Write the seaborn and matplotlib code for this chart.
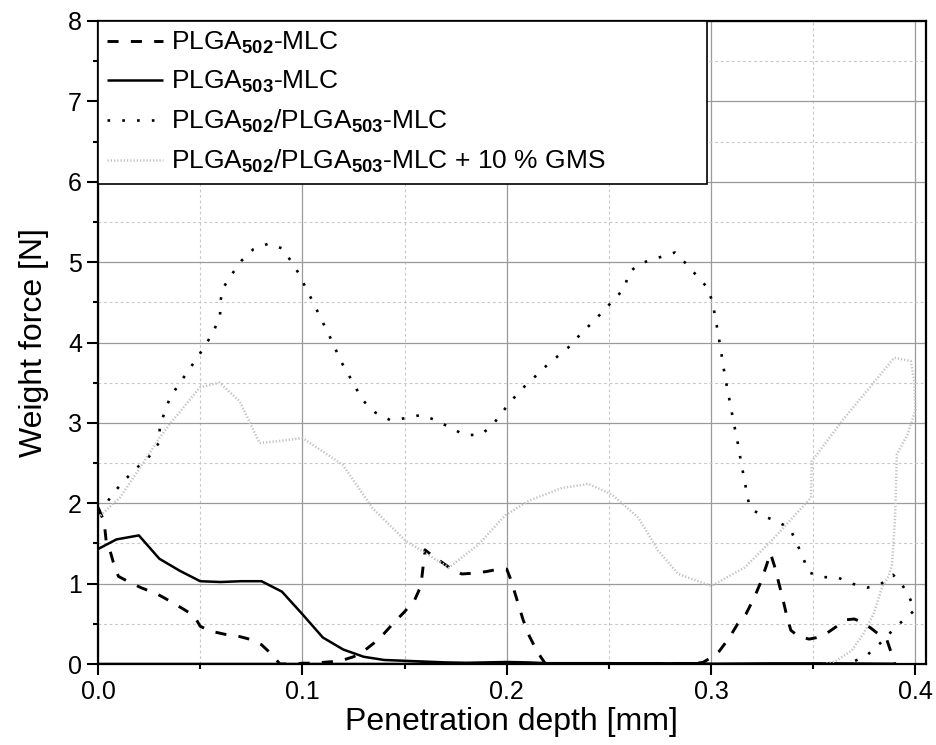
import matplotlib
matplotlib.use("Agg")
import matplotlib.pyplot as plt
import seaborn as sns
import numpy as np
from matplotlib.ticker import MultipleLocator, FormatStrFormatter

# ---------------- data ----------------
# PLGA502-MLC (dashed)
x_502 = [0.000, 0.003, 0.004, 0.006, 0.008, 0.010, 0.016, 0.021, 0.029, 0.034, 0.042, 0.047,
         0.050, 0.055, 0.062, 0.068, 0.074, 0.080, 0.085, 0.089, 0.095, 0.100, 0.105, 0.110,
         0.115, 0.120, 0.125, 0.130, 0.135, 0.140, 0.145, 0.150, 0.155, 0.158, 0.160, 0.163,
         0.168, 0.173, 0.178, 0.184, 0.190, 0.196, 0.200, 0.202, 0.205, 0.208, 0.211, 0.215,
         0.219, 0.230, 0.250, 0.270, 0.290, 0.296, 0.300, 0.304, 0.309, 0.313, 0.317, 0.321,
         0.324, 0.327, 0.329, 0.331, 0.333, 0.335, 0.337, 0.339, 0.343, 0.348, 0.352, 0.357,
         0.361, 0.366, 0.370, 0.374, 0.378, 0.382, 0.386, 0.388, 0.390]
y_502 = [1.95, 1.77, 1.53, 1.40, 1.22, 1.09, 1.01, 0.95, 0.87, 0.80, 0.68, 0.60,
         0.47, 0.41, 0.37, 0.35, 0.31, 0.24, 0.12, 0.00, 0.00, 0.01, 0.01, 0.02,
         0.03, 0.05, 0.09, 0.16, 0.26, 0.38, 0.52, 0.65, 0.80, 0.97, 1.42, 1.36,
         1.27, 1.18, 1.12, 1.13, 1.15, 1.18, 1.18, 1.05, 0.80, 0.55, 0.35, 0.15,
         0.00, 0.00, 0.00, 0.00, 0.00, 0.02, 0.08, 0.16, 0.33, 0.50, 0.62, 0.82,
         1.00, 1.22, 1.38, 1.22, 1.02, 0.82, 0.60, 0.42, 0.34, 0.31, 0.33, 0.39,
         0.46, 0.55, 0.56, 0.52, 0.45, 0.37, 0.30, 0.15, 0.00]

# PLGA503-MLC (solid)
x_503 = [0.000, 0.009, 0.020, 0.030, 0.040, 0.050, 0.060, 0.070, 0.080, 0.090, 0.100, 0.110,
         0.120, 0.130, 0.140, 0.150, 0.160, 0.170, 0.180, 0.190, 0.200, 0.210, 0.220, 0.250,
         0.280, 0.290, 0.300, 0.330, 0.360, 0.390, 0.200, 0.000]
y_503 = [1.43, 1.55, 1.60, 1.31, 1.16, 1.03, 1.02, 1.03, 1.03, 0.90, 0.62, 0.33,
         0.18, 0.09, 0.05, 0.04, 0.03, 0.02, 0.015, 0.02, 0.025, 0.02, 0.01, 0.01,
         0.005, 0.01, 0.00, 0.005, 0.005, 0.00, 0.00, 0.00]

# PLGA502/PLGA503-MLC (dotted, black)
x_mix = [0.000, 0.004, 0.009, 0.0135, 0.019, 0.025, 0.030, 0.0302, 0.035, 0.039, 0.0437, 0.048,
         0.0524, 0.0564, 0.0597, 0.0600, 0.0615, 0.0658, 0.0703, 0.076, 0.0834, 0.0902, 0.0945,
         0.0987, 0.102, 0.1055, 0.109, 0.1124, 0.1158, 0.119, 0.1228, 0.1265, 0.130, 0.1356,
         0.1433, 0.1507, 0.1584, 0.1655, 0.1724, 0.1794, 0.187, 0.1927, 0.1974, 0.2021, 0.2073,
         0.2128, 0.2185, 0.2245, 0.2302, 0.2356, 0.2411, 0.2465, 0.2519, 0.2575, 0.2598, 0.2650,
         0.2722, 0.2800, 0.2822, 0.2878, 0.2930, 0.2983, 0.3008, 0.3022, 0.3035, 0.3048, 0.306,
         0.3073, 0.3088, 0.3102, 0.3117, 0.3132, 0.3145, 0.316, 0.3174, 0.3189, 0.3247, 0.3317,
         0.3385, 0.3418, 0.3449, 0.3478, 0.3545, 0.3616, 0.3689, 0.3763, 0.3828, 0.3890, 0.3934,
         0.3972, 0.3996, 0.3934, 0.3877, 0.3828, 0.3763, 0.3697, 0.3650]
y_mix = [1.90, 2.00, 2.17, 2.30, 2.44, 2.58, 2.76, 2.96, 3.30, 3.46, 3.63, 3.79,
         3.96, 4.13, 4.33, 4.53, 4.69, 4.86, 5.02, 5.16, 5.23, 5.17, 5.01,
         4.84, 4.66, 4.49, 4.30, 4.13, 3.94, 3.76, 3.59, 3.42, 3.27, 3.13,
         3.03, 3.06, 3.10, 3.03, 2.94, 2.85, 2.85, 2.96, 3.12, 3.27, 3.42,
         3.55, 3.69, 3.82, 3.94, 4.09, 4.23, 4.37, 4.52, 4.67, 4.87, 4.98,
         5.04, 5.10, 5.12, 4.98, 4.83, 4.68, 4.49, 4.29, 4.10, 3.90, 3.70,
         3.51, 3.31, 3.12, 2.92, 2.73, 2.53, 2.33, 2.14, 1.94, 1.85, 1.78,
         1.69, 1.51, 1.33, 1.14, 1.08, 1.08, 1.00, 0.95, 0.99, 1.11, 0.99,
         0.82, 0.67, 0.53, 0.39, 0.26, 0.11, 0.03, 0.00]

# PLGA502/PLGA503-MLC + 10 % GMS (light grey, fine dots)
x_gms = [0.000, 0.0107, 0.0205, 0.030, 0.035, 0.0498, 0.0595, 0.0693, 0.079, 0.0872, 0.1001,
         0.1197, 0.1343, 0.1506, 0.1717, 0.1863, 0.1993, 0.2107, 0.227, 0.240, 0.2514, 0.2644,
         0.2741, 0.2839, 0.3001, 0.3164, 0.3294, 0.3489, 0.3492, 0.3652, 0.3815, 0.3896, 0.3977,
         0.3995, 0.3999, 0.3960, 0.3909, 0.3900, 0.3890, 0.3885, 0.3868, 0.3836, 0.3795, 0.3746,
         0.3689, 0.3607, 0.3550]
y_gms = [1.82, 2.07, 2.44, 2.81, 2.98, 3.44, 3.50, 3.27, 2.75, 2.77, 2.81,
         2.48, 1.94, 1.53, 1.20, 1.49, 1.85, 2.03, 2.19, 2.24, 2.11, 1.82,
         1.41, 1.12, 0.97, 1.20, 1.53, 2.07, 2.52, 3.06, 3.56, 3.81, 3.77,
         3.50, 3.15, 2.85, 2.61, 1.82, 1.41, 1.24, 1.09, 0.95, 0.62, 0.38,
         0.17, 0.03, 0.00]

labels = [r"PLGA$_{\mathbf{502}}$-MLC",
          r"PLGA$_{\mathbf{503}}$-MLC",
          r"PLGA$_{\mathbf{502}}$/PLGA$_{\mathbf{503}}$-MLC",
          r"PLGA$_{\mathbf{502}}$/PLGA$_{\mathbf{503}}$-MLC + 10 % GMS"]
x_ticks = [0.0, 0.1, 0.2, 0.3, 0.4]
y_ticks = [0, 1, 2, 3, 4, 5, 6, 7, 8]

# ---------------- style ----------------
sns.set_style("ticks")
plt.rcParams["font.family"] = ["Liberation Sans", "DejaVu Sans"]
plt.rcParams["mathtext.fontset"] = "custom"
plt.rcParams["mathtext.rm"] = "Liberation Sans"
plt.rcParams["mathtext.bf"] = "Liberation Sans:bold"
plt.rcParams["mathtext.it"] = "Liberation Sans:italic"
plt.rcParams["text.color"] = "black"
plt.rcParams["axes.labelcolor"] = "black"
plt.rcParams["xtick.color"] = "black"
plt.rcParams["ytick.color"] = "black"
plt.rcParams["xtick.labelcolor"] = "black"
plt.rcParams["ytick.labelcolor"] = "black"

fig = plt.figure(figsize=(9.36, 7.45), dpi=100)
ax = fig.add_axes([98 / 936, 1 - 664 / 745, (925.7 - 98) / 936, (664 - 21) / 745])

series = [
    (x_502, y_502, dict(color="black", linewidth=2.1, linestyle=(0, (3.8, 4.2)))),
    (x_503, y_503, dict(color="black", linewidth=1.8, linestyle="-")),
    (x_mix, y_mix, dict(color="black", linewidth=1.9, linestyle=(0, (1, 4.6)))),
    (x_gms, y_gms, dict(color="#c2c2c2", linewidth=1.8, linestyle=(0, (0.5, 0.8)))),
]
handles = []
for (xs, ys, kw), lab in zip(series, labels):
    sns.lineplot(x=xs, y=ys, sort=False, estimator=None, ax=ax, **kw)
    ln = ax.lines[-1]
    ln.set_solid_capstyle("butt")
    ln.set_dash_capstyle("butt")
    handles.append(ln)

ax.set_xlim(0, 0.405)
ax.set_ylim(0, 8)
ax.set_xticks(x_ticks)
ax.set_yticks(y_ticks)
ax.xaxis.set_major_formatter(FormatStrFormatter("%.1f"))
ax.xaxis.set_minor_locator(MultipleLocator(0.05))
ax.yaxis.set_minor_locator(MultipleLocator(0.5))

ax.set_axisbelow(True)
ax.grid(which="major", color="#9a9a9a", linewidth=0.9, linestyle="-")
ax.grid(which="minor", color="#c8c8c8", linewidth=0.8, linestyle=(0, (2.5, 2.5)))

for sp in ax.spines.values():
    sp.set_visible(True)
    sp.set_color("black")
    sp.set_linewidth(1.6)

ax.tick_params(which="major", direction="out", length=8, width=1.5, labelsize=18,
               colors="black", top=False, right=False)
ax.tick_params(which="minor", direction="out", length=3.5, width=1.5, top=False, right=False,
               colors="black")

ax.set_xlabel("Penetration depth [mm]", fontsize=23, labelpad=2, color="black")
ax.set_ylabel("Weight force [N]", fontsize=23, labelpad=14, color="black")

leg = ax.legend(handles, labels, loc="upper left", bbox_to_anchor=(0, 1, 0.736, 0),
                mode="expand", borderaxespad=0, fontsize=19, handlelength=2.1,
                handletextpad=0.3, labelspacing=0.48, borderpad=0.35, fancybox=False,
                framealpha=1, edgecolor="black", labelcolor="black")
leg.get_frame().set_linewidth(1.2)

fig.savefig("out.png", dpi=100)
